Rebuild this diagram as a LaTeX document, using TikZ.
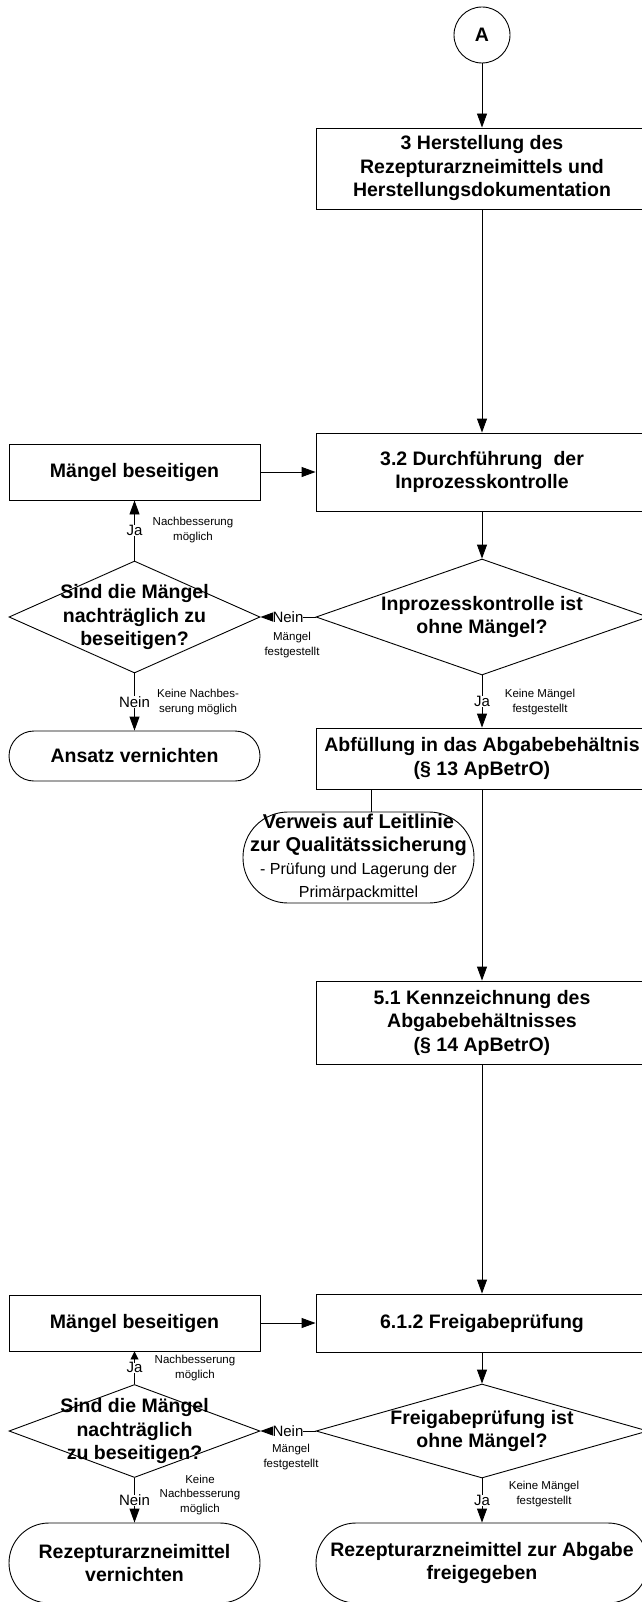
\documentclass[tikz,border=0pt]{standalone}
\usepackage{fontspec}
\setmainfont{Liberation Sans}
\usepackage{tikz}
\usetikzlibrary{arrows.meta,shapes.geometric}

\tikzset{
  proc/.style={draw, rectangle, minimum width=332pt, align=center, inner sep=1pt, font=\fontsize{19.5}{23.5}\selectfont\bfseries},
  side/.style={proc, minimum width=251pt, minimum height=56pt},
  dec/.style={draw, diamond, inner sep=0pt},
  dectext/.style={align=center, inner sep=0pt, font=\fontsize{19.5}{23.5}\selectfont\bfseries},
  term/.style={draw, rectangle, align=center, inner sep=0pt, font=\fontsize{19.5}{23.5}\selectfont\bfseries},
  lbl/.style={fill=white, inner sep=0pt, font=\fontsize{15}{16}\selectfont},
  note/.style={align=center, inner sep=0pt, font=\fontsize{11.5}{14.5}\selectfont},
  flow/.style={-{Triangle[length=14pt,width=10pt]}},
  shortflow/.style={-{Triangle[length=8pt,width=8pt]}}
}

\begin{document}
\begin{tikzpicture}[x=1pt, y=-1pt, line width=0.9pt]
    \useasboundingbox (0,0) rectangle (641,1602);
    \node[draw, circle, minimum size=56pt, inner sep=0pt, font=\fontsize{19.5}{20}\selectfont\bfseries] (A) at (482,35) {A};
    \node[proc, minimum height=81pt] (herst) at (482,168.5) {3 Herstellung des\\Rezepturarzneimittels und\\Herstellungsdokumentation};
    \node[proc, minimum height=78pt] (ipk) at (482,472) {3.2 Durchführung\ \ der\\Inprozesskontrolle};
    \node[side] (mb1) at (134.5,472) {Mängel beseitigen};
    \node[dec, minimum width=332pt, minimum height=116pt, label={[dectext]center:Inprozesskontrolle ist\\ohne Mängel?}] (d1) at (482,617) {};
    \node[dec, minimum width=251pt, minimum height=112pt, label={[dectext]center:Sind die Mängel\\nachträglich zu\\beseitigen?}] (d2) at (134.5,617) {};
    \node[term, minimum width=251pt, minimum height=50pt, rounded corners=25pt] (ansatz) at (134.5,756) {Ansatz vernichten};
    \node[proc, minimum height=61pt] (abf) at (482,758.5) {Abfüllung in das Abgabebehältnis\\(§ 13 ApBetrO)};
    \node[term, minimum width=231pt, minimum height=91pt, rounded corners=45pt, font=\fontsize{16}{23}\selectfont] (verweis) at (358.5,857.5)
        {{\fontsize{20}{23}\selectfont\bfseries Verweis auf Leitlinie}\\{\fontsize{20}{23}\selectfont\bfseries zur Qualitätssicherung}\\- Prüfung und Lagerung der\\Primärpackmittel};
    \node[proc, minimum height=83pt] (kennz) at (482,1022.5) {5.1 Kennzeichnung des\\Abgabebehältnisses\\(§ 14 ApBetrO)};
    \node[proc, minimum height=58pt] (frei) at (482,1323) {6.1.2 Freigabeprüfung};
    \node[side] (mb2) at (134.5,1323) {Mängel beseitigen};
    \node[dec, minimum width=332pt, minimum height=94pt, label={[dectext]center:Freigabeprüfung ist\\ohne Mängel?}] (d3) at (482,1431) {};
    \node[dec, minimum width=251pt, minimum height=93pt, label={[dectext]center:Sind die Mängel\\nachträglich\\zu beseitigen?}] (d4) at (134.5,1431) {};
    \node[term, minimum width=251pt, minimum height=80pt, rounded corners=40pt] (rvern) at (134.5,1563) {Rezepturarzneimittel\\vernichten};
    \node[term, minimum width=332pt, minimum height=80pt, rounded corners=40pt] (rfrei) at (482,1563) {Rezepturarzneimittel zur Abgabe\\freigegeben};

    \node[note] (n1) at (193,530) {Nachbesserung\\möglich};
    \node[note] (n2) at (292,645) {Mängel\\festgestellt};
    \node[note] (n3) at (198,702) {Keine Nachbes-\\serung möglich};
    \node[note] (n4) at (540,702) {Keine Mängel\\festgestellt};
    \node[note] (n5) at (195,1368) {Nachbesserung\\möglich};
    \node[note] (n6) at (291,1457) {Mängel\\festgestellt};
    \node[note] (n7) at (200,1495) {Keine\\Nachbesserung\\möglich};
    \node[note] (n8) at (544,1494) {Keine Mängel\\festgestellt};

    \draw[flow] (A) -- (herst);
    \draw[flow] (herst) -- (ipk);
    \draw[flow] (mb1) -- (ipk);
    \draw[flow] (ipk) -- (d1);
    \draw[flow] (d1.west) -- node[lbl]{Nein} (d2.east);
    \draw[flow] (d2) -- node[lbl]{Ja} (mb1);
    \draw[flow] (d2) -- node[lbl]{Nein} (ansatz);
    \draw[flow] (d1) -- node[lbl]{Ja} (abf);
    \draw ([xshift=-111pt]abf.south) -- ([xshift=-111pt]abf.south |- verweis.north);
    \draw[flow] (abf) -- (kennz);
    \draw[flow] (kennz) -- (frei);
    \draw[flow] (mb2) -- (frei);
    \draw[flow] (frei) -- (d3);
    \draw[flow] (d3.west) -- node[lbl]{Nein} (d4.east);
    \draw[shortflow] (d4) -- node[lbl]{Ja} (mb2);
    \draw[flow] (d4) -- node[lbl]{Nein} (rvern);
    \draw[flow] (d3) -- node[lbl]{Ja} (rfrei);
\end{tikzpicture}
\end{document}
